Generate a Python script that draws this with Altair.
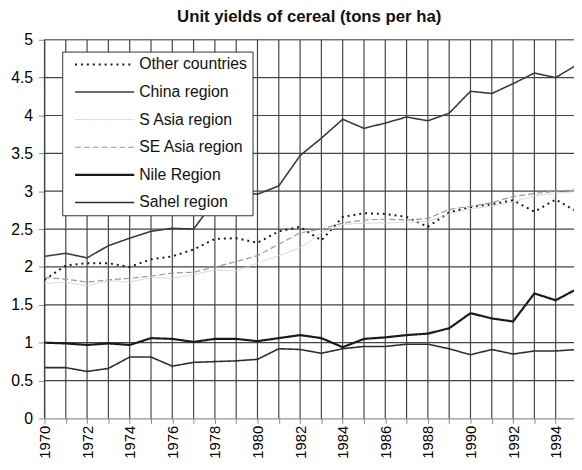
import altair as alt
import pandas as pd

years = list(range(1970, 1996))

series = ["Other countries", "China region", "S Asia region", "SE Asia region", "Nile Region", "Sahel region"]

other = [1.83, 2.02, 2.05, 2.05, 2.00, 2.10, 2.14, 2.23, 2.37, 2.38, 2.32, 2.47, 2.53, 2.35, 2.66, 2.71,
         2.70, 2.66, 2.53, 2.72, 2.79, 2.83, 2.88, 2.73, 2.89, 2.73]
china = [2.14, 2.18, 2.12, 2.28, 2.38, 2.47, 2.51, 2.50, 2.88, 3.00, 2.96, 3.07, 3.47, 3.70, 3.95, 3.83,
         3.90, 3.98, 3.93, 4.03, 4.32, 4.29, 4.42, 4.56, 4.50, 4.67]
s_asia = [1.78, 1.80, 1.75, 1.82, 1.80, 1.86, 1.85, 1.90, 1.96, 1.95, 2.05, 2.15, 2.25, 2.45, 2.56, 2.58,
          2.58, 2.59, 2.60, 2.70, 2.77, 2.80, 2.86, 2.94, 2.97, 3.00]
se_asia = [1.86, 1.84, 1.80, 1.83, 1.85, 1.88, 1.92, 1.93, 2.00, 2.07, 2.15, 2.30, 2.45, 2.50, 2.58, 2.62,
           2.63, 2.62, 2.64, 2.76, 2.80, 2.85, 2.93, 2.97, 3.00, 3.02]
nile = [1.00, 0.99, 0.97, 0.99, 0.97, 1.06, 1.05, 1.01, 1.05, 1.05, 1.02, 1.06, 1.10, 1.06, 0.94, 1.05,
        1.07, 1.10, 1.12, 1.19, 1.39, 1.32, 1.28, 1.65, 1.56, 1.71]
sahel = [0.67, 0.67, 0.62, 0.66, 0.81, 0.81, 0.69, 0.74, 0.75, 0.76, 0.78, 0.92, 0.91, 0.86, 0.92, 0.95,
         0.95, 0.98, 0.98, 0.92, 0.84, 0.91, 0.85, 0.89, 0.89, 0.91]

y_ticks = [0, 0.5, 1, 1.5, 2, 2.5, 3, 3.5, 4, 4.5, 5]
x_ticks = list(range(1970, 1995))

colors = ["#1a1a1a", "#3a3a3a", "#d4d4d4", "#9a9a9a", "#1a1a1a", "#2e2e2e"]
dashes = [[2, 4], [1, 0], [1, 0], [6, 3], [1, 0], [1, 0]]
widths = [2.0, 1.6, 1.0, 1.2, 2.2, 1.6]

values = [other, china, s_asia, se_asia, nile, sahel]
rows = []
for name, vals in zip(series, values):
    for yr, v in zip(years, vals):
        rows.append({"year": yr, "value": v, "series": name})
df = pd.DataFrame(rows)

x_scale = alt.Scale(domain=[1970, 1994.86], nice=False, zero=False)
y_scale = alt.Scale(domain=[0, 5], nice=False)

x_axis = alt.Axis(values=x_ticks, format="d", labelAngle=-90, grid=False,
                  labelExpr="datum.value % 2 == 0 ? datum.label : ''",
                  labelOverlap=False, labelFlush=False, title=None,
                  labelFontSize=15, labelPadding=2, tickSize=5)
y_axis = alt.Axis(values=y_ticks, format=".1~f", title=None, grid=False,
                  labelFontSize=16, labelPadding=6, tickSize=6)

vgrid = alt.Chart(pd.DataFrame({"year": x_ticks})).mark_rule(
    color="#444444", strokeWidth=1.2
).encode(x=alt.X("year:Q", scale=x_scale, axis=x_axis))

hgrid = alt.Chart(pd.DataFrame({"value": y_ticks[1:]})).mark_rule(
    color="#444444", strokeWidth=1.2
).encode(y=alt.Y("value:Q", scale=y_scale, axis=y_axis))

lines = alt.Chart(df).mark_line(clip=True).encode(
    x=alt.X("year:Q", scale=x_scale, axis=x_axis),
    y=alt.Y("value:Q", scale=y_scale, axis=y_axis),
    color=alt.Color("series:N", scale=alt.Scale(domain=series, range=colors),
                    legend=alt.Legend(orient="none", legendX=18, legendY=12, title=None,
                                      symbolType="M0,0H12", symbolSize=100,
                                      labelFontSize=16, labelFont="Liberation Sans",
                                      labelColor="#111", labelOffset=57,
                                      strokeColor="#333", fillColor="white",
                                      padding=5, rowPadding=12)),
    strokeDash=alt.StrokeDash("series:N", scale=alt.Scale(domain=series, range=dashes)),
    strokeWidth=alt.StrokeWidth("series:N", scale=alt.Scale(type="ordinal", domain=series, range=widths)),
)

chart = alt.layer(vgrid, hgrid, lines).properties(
    width=537,
    height=384,
    title=alt.TitleParams("Unit yields of cereal (tons per ha)", fontSize=17,
                          font="Liberation Sans", fontWeight="bold", color="#111",
                          anchor="middle", offset=6),
    autosize=alt.AutoSizeParams(type="none"),
    padding={"left": 37, "top": 29, "right": 0, "bottom": 40},
).configure_axis(
    labelFont="Liberation Sans",
    labelColor="#111",
    domainColor="#222",
    domainWidth=1.2,
    tickColor="#222",
    tickWidth=1.2,
).configure_view(
    stroke=None
).configure(background="white")

chart.save("out.html", embed_options={"renderer": "svg", "actions": False})
